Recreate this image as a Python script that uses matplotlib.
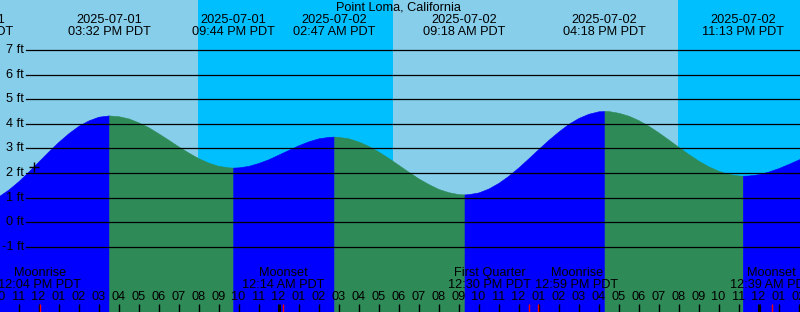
import numpy as np
import pandas as pd
from matplotlib import pyplot as plt

plt.rcParams['font.family'] = ['Liberation Sans', 'DejaVu Sans']

title = "Point Loma, California"
start = pd.Timestamp("2025-07-01 10:00")

# high / low tides
event_times = ["2025-07-01 08:40", "2025-07-01 15:32", "2025-07-01 21:44",
               "2025-07-02 02:47", "2025-07-02 09:18", "2025-07-02 16:18",
               "2025-07-02 23:13"]
event_levels = [0.70, 4.34, 2.22, 3.48, 1.13, 4.52, 1.89]

# tide level read every half hour from 10:00 AM 2025-07-01 (ft)
levels = [1.05, 1.33, 1.67, 2.06, 2.47, 2.88, 3.27, 3.62, 3.92, 4.14, 4.29, 4.34,
          4.31, 4.22, 4.06, 3.86, 3.61, 3.35, 3.08, 2.83, 2.60, 2.42, 2.29, 2.23,
          2.23, 2.29, 2.41, 2.56, 2.75, 2.94, 3.13, 3.29, 3.41, 3.47,
          3.47, 3.41, 3.28, 3.10, 2.87, 2.61, 2.33, 2.05, 1.78, 1.55, 1.35, 1.22, 1.14,
          1.14, 1.21, 1.37, 1.60, 1.89, 2.23, 2.60, 2.98, 3.35, 3.69, 4.00, 4.24, 4.41, 4.51,
          4.52, 4.45, 4.33, 4.15, 3.92, 3.65, 3.36, 3.06, 2.77, 2.50, 2.27, 2.09, 1.96, 1.90,
          1.90, 1.95, 2.06, 2.20, 2.37, 2.55, 2.74]

# sunset / sunrise
sunsets = ["2025-07-01 19:58", "2025-07-02 19:58"]
sunrises = ["2025-07-02 05:43"]

moon_names = ["Moonrise", "Moonset", "First Quarter", "Moonrise", "Moonset"]
moon_times = ["2025-07-01 12:04", "2025-07-02 00:14", "2025-07-02 12:30",
              "2025-07-02 12:59", "2025-07-03 00:39"]

now_time = "2025-07-01 11:47"
now_level = 2.26

ft_ticks = [-1, 0, 1, 2, 3, 4, 5, 6, 7]

DAY = "#87CEEB"
NIGHT = "#00BFFF"
RISE = "#0000FF"
FALL = "#2E8B57"


def hrs(s):
    return (pd.Timestamp(s) - start) / pd.Timedelta(hours=1)


ev_t = np.array([hrs(s) for s in event_times])
ev_l = np.array(event_levels)
smp_t = np.arange(len(levels)) * 0.5
t = np.concatenate([smp_t, ev_t])
lv = np.concatenate([np.array(levels), ev_l])
order = np.argsort(t)
t = t[order]
lv = lv[order]

x0, x1 = 0.075, 40.075
y0, y1 = -3.652, 9.036
PX = 24.59  # pixels per foot

fig = plt.figure(figsize=(8, 3.12), dpi=100)
ax = fig.add_axes([0, 0, 1, 1])
ax.set_xlim(x0, x1)
ax.set_ylim(y0, y1)
ax.axis("off")

# sky
ax.axvspan(-10, hrs(sunsets[0]), color=DAY, lw=0, zorder=0)
ax.axvspan(hrs(sunsets[0]), hrs(sunrises[0]), color=NIGHT, lw=0, zorder=0)
ax.axvspan(hrs(sunrises[0]), hrs(sunsets[1]), color=DAY, lw=0, zorder=0)
ax.axvspan(hrs(sunsets[1]), 60, color=NIGHT, lw=0, zorder=0)

# water, blue when rising, green when falling
bounds = list(ev_t) + [t[-1]]
for i in range(len(bounds) - 1):
    m = (t >= bounds[i]) & (t <= bounds[i + 1])
    rising = i == len(ev_t) - 1 or ev_l[i + 1] > ev_l[i]
    c = RISE if rising else FALL
    ax.fill_between(t[m], lv[m], y0, color=c, lw=0.4, zorder=1)

# level lines
for f in ft_ticks:
    ax.axhline(f, xmin=26 / 800, xmax=1, color="black", lw=0.9, zorder=2)
    ax.text(x0 + 24 / 20, f, f"{f} ft", ha="right", va="center",
            fontsize=9.2, zorder=3)

fs = 9.2
ax.text(20.0, y1 - 7.5 / PX, title, ha="center", va="center", fontsize=fs, zorder=3)

for s in event_times:
    ts = pd.Timestamp(s)
    x = hrs(s)
    ax.text(x, y1 - 19.5 / PX, ts.strftime("%Y-%m-%d"), ha="center",
            va="center", fontsize=fs, zorder=3)
    ax.text(x, y1 - 31.5 / PX, ts.strftime("%I:%M %p PDT"), ha="center",
            va="center", fontsize=fs, zorder=3)

# hour ticks
tick_top = y0 + 8 / PX
for h in range(0, 41):
    ts = start + pd.Timedelta(hours=h)
    hh = ts.hour % 12
    lab = "12" if hh == 0 else f"{hh:02d}"
    ax.text(h, y0 + 14.5 / PX, lab, ha="center", va="center",
            fontsize=fs, zorder=3)
    w = 2.2 if ts.hour == 0 else 1.0
    ax.vlines(h, y0, tick_top, color="black", lw=w, zorder=3)

# moon events; labels that would collide are pushed apart
moon_x = [hrs(s) for s in moon_times]
lab_x = list(moon_x)
sep = 87 / 20
for i in range(len(lab_x) - 1):
    if lab_x[i + 1] - lab_x[i] < sep:
        mid = (lab_x[i] + lab_x[i + 1]) / 2
        lab_x[i] = mid - sep / 2
        lab_x[i + 1] = mid + sep / 2

for name, s, x, lx in zip(moon_names, moon_times, moon_x, lab_x):
    ts = pd.Timestamp(s)
    ax.vlines(x, y0, tick_top, color="red", lw=1.0, zorder=4)
    ax.text(lx, y0 + 38.5 / PX, name, ha="center", va="center",
            fontsize=fs, zorder=3)
    ax.text(lx, y0 + 26.5 / PX, ts.strftime("%I:%M %p PDT"), ha="center",
            va="center", fontsize=fs, zorder=3)

ax.plot([hrs(now_time)], [now_level], marker="+", color="black", ms=7,
        mew=1.0, zorder=4)

fig.savefig("out.png", dpi=100)
